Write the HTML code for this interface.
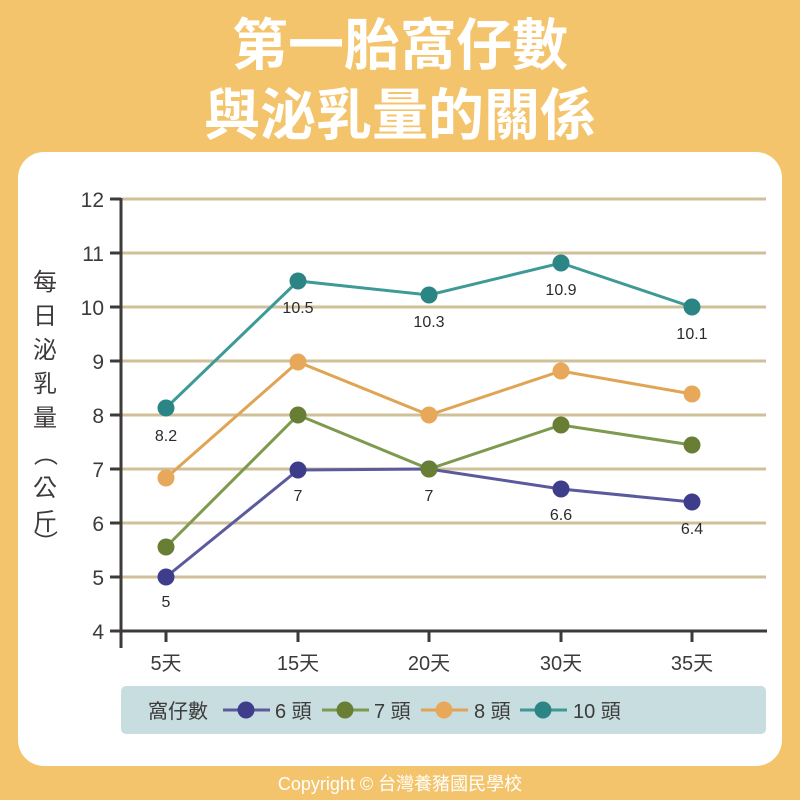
<!DOCTYPE html>
<html><head><meta charset="utf-8"><style>
body{margin:0;width:800px;height:800px;background:#F3C46B;overflow:hidden}
svg{display:block}
text{font-family:"Liberation Sans","Noto Sans CJK TC",sans-serif}
</style></head><body>
<svg width="800" height="800" viewBox="0 0 800 800" xmlns="http://www.w3.org/2000/svg">
<rect x="0" y="0" width="800" height="800" fill="#F3C46B"/>
<text x="400" y="65" text-anchor="middle" font-size="56" font-weight="bold" fill="#fff" style="font-family:'Noto Sans CJK TC',sans-serif">第一胎窩仔數</text>
<text x="400" y="135" text-anchor="middle" font-size="56" font-weight="bold" fill="#fff" style="font-family:'Noto Sans CJK TC',sans-serif">與泌乳量的關係</text>
<rect x="18" y="152" width="764" height="614" rx="26" fill="#fff"/>
<g stroke="#CFC09A" stroke-width="3">
<line x1="122" x2="766" y1="199" y2="199"/><line x1="122" x2="766" y1="253" y2="253"/>
<line x1="122" x2="766" y1="307" y2="307"/><line x1="122" x2="766" y1="361" y2="361"/>
<line x1="122" x2="766" y1="415" y2="415"/><line x1="122" x2="766" y1="469" y2="469"/>
<line x1="122" x2="766" y1="523" y2="523"/><line x1="122" x2="766" y1="577" y2="577"/>
</g>
<g stroke="#3d3a3a" stroke-width="3">
<line x1="121" y1="198" x2="121" y2="648"/>
<line x1="120" y1="631" x2="767" y2="631"/>
<line x1="110" x2="121" y1="199" y2="199"/><line x1="110" x2="121" y1="253" y2="253"/>
<line x1="110" x2="121" y1="307" y2="307"/><line x1="110" x2="121" y1="361" y2="361"/>
<line x1="110" x2="121" y1="415" y2="415"/><line x1="110" x2="121" y1="469" y2="469"/>
<line x1="110" x2="121" y1="523" y2="523"/><line x1="110" x2="121" y1="577" y2="577"/>
<line x1="110" x2="121" y1="631" y2="631"/>
<line x1="166" x2="166" y1="631" y2="642"/><line x1="298" x2="298" y1="631" y2="642"/>
<line x1="429" x2="429" y1="631" y2="642"/><line x1="561" x2="561" y1="631" y2="642"/>
<line x1="692" x2="692" y1="631" y2="642"/>
</g>
<g font-size="21" fill="#3d3a3a" text-anchor="end">
<text x="104" y="207">12</text><text x="104" y="261">11</text><text x="104" y="315">10</text>
<text x="104" y="369">9</text><text x="104" y="423">8</text><text x="104" y="477">7</text>
<text x="104" y="531">6</text><text x="104" y="585">5</text><text x="104" y="639">4</text>
</g>
<g font-size="20" fill="#3d3a3a" text-anchor="middle">
<text x="166" y="670">5天</text><text x="298" y="670">15天</text><text x="429" y="670">20天</text>
<text x="561" y="670">30天</text><text x="692" y="670">35天</text>
</g>
<g font-size="24" fill="#3d3a3a" text-anchor="middle">
<text x="45" y="290">每</text><text x="45" y="324">日</text><text x="45" y="358">泌</text>
<text x="45" y="392">乳</text><text x="45" y="426">量</text>
<text x="45" y="462" transform="rotate(90 45 454)">（</text>
<text x="45" y="496">公</text><text x="45" y="530">斤</text>
<text x="45" y="550" transform="rotate(90 45 542)">）</text>
</g>
<polyline fill="none" stroke="#5B5A9C" stroke-width="3" points="166,577 298,470 429,469 561,489 692,502"/>
<polyline fill="none" stroke="#7E9A4F" stroke-width="3" points="166,547 298,415 429,469 561,425 692,445"/>
<polyline fill="none" stroke="#E0A455" stroke-width="3" points="166,478 298,362 429,415 561,371 692,394"/>
<polyline fill="none" stroke="#3E9A96" stroke-width="3" points="166,408 298,281 429,295 561,263 692,307"/>
<g fill="#3E3D8C"><circle cx="166" cy="577" r="8.5"/><circle cx="298" cy="470" r="8.5"/><circle cx="429" cy="469" r="8.5"/><circle cx="561" cy="489" r="8.5"/><circle cx="692" cy="502" r="8.5"/></g>
<g fill="#677E34"><circle cx="166" cy="547" r="8.5"/><circle cx="298" cy="415" r="8.5"/><circle cx="429" cy="469" r="8.5"/><circle cx="561" cy="425" r="8.5"/><circle cx="692" cy="445" r="8.5"/></g>
<g fill="#E8A85A"><circle cx="166" cy="478" r="8.5"/><circle cx="298" cy="362" r="8.5"/><circle cx="429" cy="415" r="8.5"/><circle cx="561" cy="371" r="8.5"/><circle cx="692" cy="394" r="8.5"/></g>
<g fill="#2B8585"><circle cx="166" cy="408" r="8.5"/><circle cx="298" cy="281" r="8.5"/><circle cx="429" cy="295" r="8.5"/><circle cx="561" cy="263" r="8.5"/><circle cx="692" cy="307" r="8.5"/></g>
<g font-size="16" fill="#2d2a2a" text-anchor="middle">
<text x="166" y="441">8.2</text><text x="298" y="313">10.5</text><text x="429" y="327">10.3</text>
<text x="561" y="295">10.9</text><text x="692" y="339">10.1</text>
<text x="166" y="607">5</text><text x="298" y="501">7</text><text x="429" y="501">7</text>
<text x="561" y="520">6.6</text><text x="692" y="534">6.4</text>
</g>
<rect x="121" y="686" width="645" height="48" rx="5" fill="#C7DDDF"/>
<g font-size="20" fill="#3d3a3a">
<text x="148" y="718" style="font-family:'Noto Sans CJK TC',sans-serif">窩仔數</text>
<text x="275" y="718">6 頭</text><text x="374" y="718">7 頭</text>
<text x="474" y="718">8 頭</text><text x="573" y="718">10 頭</text>
</g>
<g stroke-width="3">
<line x1="223" x2="270" y1="710" y2="710" stroke="#5B5A9C"/>
<line x1="322" x2="369" y1="710" y2="710" stroke="#7E9A4F"/>
<line x1="421" x2="468" y1="710" y2="710" stroke="#E0A455"/>
<line x1="520" x2="567" y1="710" y2="710" stroke="#3E9A96"/>
</g>
<circle cx="246" cy="710" r="8.5" fill="#3E3D8C"/><circle cx="345" cy="710" r="8.5" fill="#677E34"/>
<circle cx="444" cy="710" r="8.5" fill="#E8A85A"/><circle cx="543" cy="710" r="8.5" fill="#2B8585"/>
<text x="400" y="790" text-anchor="middle" font-size="18" fill="#fff">Copyright © 台灣養豬國民學校</text>
</svg>
</body></html>
